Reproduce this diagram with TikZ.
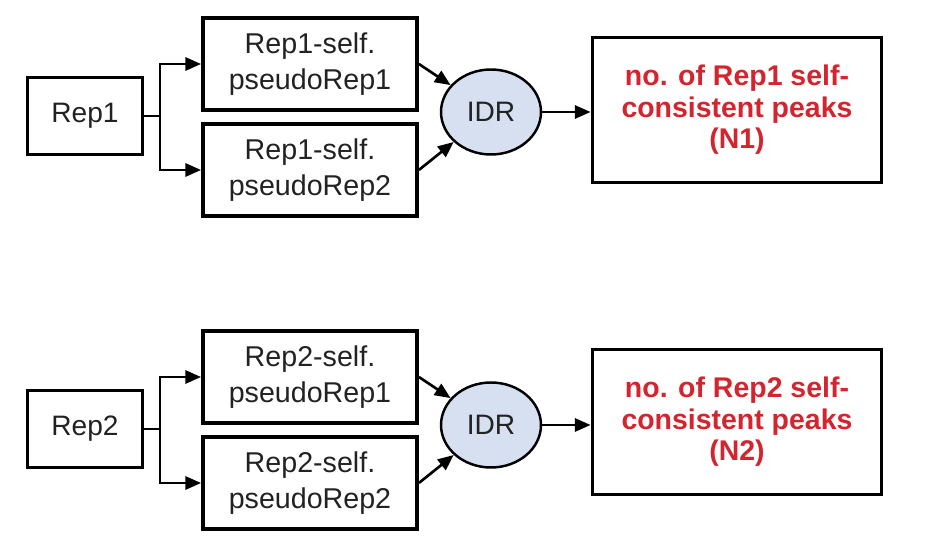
\documentclass[tikz,border=0pt]{standalone}
\usepackage{fontspec}
\setmainfont{Liberation Sans}
\usetikzlibrary{arrows.meta,shapes.geometric}
\definecolor{idrblue}{RGB}{214,224,240}
\definecolor{peakred}{RGB}{212,36,46}
\definecolor{inkgray}{RGB}{34,34,34}
\tikzset{
    repbox/.style={draw, line width=2.2pt, minimum width=2.3cm, minimum height=1.54cm, text=inkgray},
    selfbox/.style={draw, line width=2.2pt, minimum width=4.28cm, minimum height=1.84cm, align=center, text=inkgray, font=\fontsize{16.3}{20.5}\selectfont},
    idrnode/.style={draw, ellipse, line width=1.4pt, fill=idrblue, minimum width=2cm, minimum height=1.7cm, inner sep=0pt, text=inkgray},
    peakbox/.style={draw, line width=2.2pt, minimum width=5.78cm, minimum height=2.9cm, align=center, text=peakred, font=\fontsize{16.2}{18}\selectfont\bfseries},
    flow/.style={line width=1.5pt, -{Triangle[length=9pt,width=7.5pt]}}
}
\begin{document}
\begin{tikzpicture}[x=0.02cm, y=-0.02cm, font=\fontsize{16}{19}\selectfont]
\useasboundingbox (0,0) rectangle (938,557);
% first replicate
\node[repbox] (rep1) at (85,116) {Rep1};
\node[selfbox] (selfA1) at (310,64) {Rep1-self.\\pseudoRep1};
\node[selfbox] (selfA2) at (310,170) {Rep1-self.\\pseudoRep2};
\node[idrnode] (idr1) at (491,112) {IDR};
\node[peakbox] (peak1) at (737,110) {no. of Rep1 self-\\consistent peaks\\(N1)};
\coordinate (fork1) at (160,116);
\draw[line width=1.5pt] (rep1.east) -- (fork1);
\draw[flow] (fork1) |- (selfA1.west);
\draw[flow] (fork1) |- (selfA2.west);
\draw[flow] (selfA1.east) -- (idr1);
\draw[flow] (selfA2.east) -- (idr1);
\draw[flow] (idr1.east) -- (idr1.east -| peak1.west);
% second replicate
\node[repbox] (rep2) at (85,429) {Rep2};
\node[selfbox] (selfB1) at (310,377) {Rep2-self.\\pseudoRep1};
\node[selfbox] (selfB2) at (310,483) {Rep2-self.\\pseudoRep2};
\node[idrnode] (idr2) at (491,425) {IDR};
\node[peakbox] (peak2) at (737,422) {no. of Rep2 self-\\consistent peaks\\(N2)};
\coordinate (fork2) at (160,429);
\draw[line width=1.5pt] (rep2.east) -- (fork2);
\draw[flow] (fork2) |- (selfB1.west);
\draw[flow] (fork2) |- (selfB2.west);
\draw[flow] (selfB1.east) -- (idr2);
\draw[flow] (selfB2.east) -- (idr2);
\draw[flow] (idr2.east) -- (idr2.east -| peak2.west);
\end{tikzpicture}
\end{document}
